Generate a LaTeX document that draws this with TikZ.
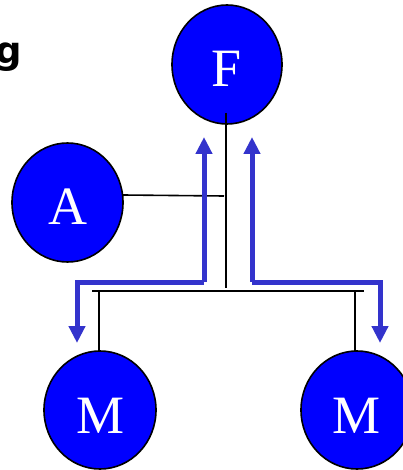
\documentclass[tikz,border=0pt]{standalone}
\usepackage{fontspec}
\setmainfont{Liberation Serif}
\newfontfamily\gfont{DejaVu Sans}
\usetikzlibrary{arrows.meta}
\definecolor{nodeblue}{RGB}{0,0,255}
\definecolor{arrowblue}{RGB}{51,51,204}
\tikzset{
  ball/.style={ellipse, draw=black, line width=1.6pt, fill=nodeblue, minimum width=#1},
  ballshape/.style={draw=black, line width=1.6pt, fill=nodeblue},
  lab/.style={text=white, font=\fontsize{54}{54}\selectfont, anchor=base},
  link/.style={draw=black, line width=1.6pt},
  flow/.style={draw=arrowblue, line width=5pt, -{Triangle[length=17pt,width=16pt]}}
}
\begin{document}
\begin{tikzpicture}[x=1pt,y=-1pt]
\useasboundingbox (0,0) rectangle (403,470);
% circles
\draw[ballshape] (227,64.5) ellipse [x radius=55, y radius=59.5];
\draw[ballshape] (67.5,202.5) ellipse [x radius=55.5, y radius=59.5];
\draw[ballshape] (100,410) ellipse [x radius=56, y radius=59];
\draw[ballshape] (357,410) ellipse [x radius=56, y radius=59];
\node[lab] (F) at (227,87) {F};
\node[lab] (A) at (67.5,224) {A};
\node[lab] (M1) at (100.5,433) {M};
\node[lab] (M2) at (357,433) {M};
\node[font=\gfont\bfseries\fontsize{37}{37}\selectfont, anchor=base east, inner sep=0pt] (g) at (22.5,64) {g};
% coordinates
\coordinate (fb) at (226,113);
\coordinate (jt) at (226,288);
\coordinate (ar) at (123,195);
\coordinate (aj) at (224,196);
\coordinate (bl) at (92,291);
\coordinate (br) at (364,291);
\coordinate (ml) at (99,291);
\coordinate (mlt) at (99,351);
\coordinate (mr) at (355,291);
\coordinate (mrt) at (355,351);
\draw[link] (fb) -- (jt);
\draw[link] (ar) -- (aj);
\draw[link] (bl) -- (br);
\draw[link] (ml) -- (mlt);
\draw[link] (mr) -- (mrt);
% flows
\coordinate (lc) at (204,282);
\coordinate (rc) at (252,282);
\draw[flow] (lc) -- (204,137);
\draw[flow] (rc) -- (252,137);
\draw[flow] (lc) -- (77,282) -- (77,343);
\draw[flow] (rc) -- (380,282) -- (380,343);
\end{tikzpicture}
\end{document}
